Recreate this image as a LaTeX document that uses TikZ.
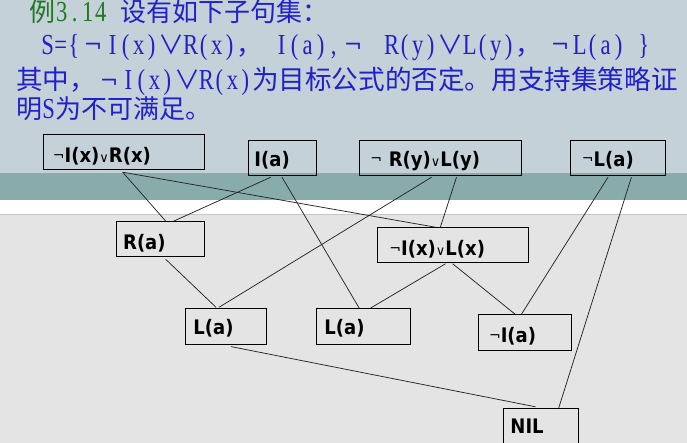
\documentclass[tikz,border=0pt]{standalone}
\usepackage{fontspec}
\newfontfamily\cjk{Noto Sans CJK SC}
\newfontfamily\lat{Liberation Serif}[FakeStretch=0.78]
\newfontfamily\hsym{DejaVu Serif}
\newfontfamily\bxf{DejaVu Sans}[FakeStretch=0.9]
\newfontfamily\bxs{DejaVu Sans}
\definecolor{topc}{HTML}{C5D1D9}
\definecolor{bandc}{HTML}{88ACAC}
\definecolor{lowc}{HTML}{E4E4E4}
\definecolor{hblue}{HTML}{2020CC}
\definecolor{hgreen}{HTML}{1E7A1E}
\newcommand\hh[1]{\makebox[13pt]{\lat\fontsize{29}{29}\selectfont #1}}
\newcommand\hneg{\makebox[26pt]{\raisebox{1.5pt}{\hsym\fontsize{22}{22}\selectfont ¬}}}
\newcommand\hor{\makebox[26pt]{\cjk\fontsize{26}{26}\selectfont ∨}}
\newcommand\hcomma{\makebox[26pt][l]{\cjk\fontsize{26}{26}\selectfont ，}}
\def\monoend{MONOEND}
\def\mono#1{\monoloop#1\monoend}
\def\monoloop#1{\ifx#1\monoend\else\hh{#1}\expandafter\monoloop\fi}
\newcommand\mynegsym{\raisebox{2.5pt}{\bxs\mdseries\fontsize{14}{14}\selectfont ¬}}
\newcommand\myorsym{{\bxs\mdseries\fontsize{13}{13}\selectfont ∨}}
\tikzset{
  hdr/.style={anchor=base west, inner sep=0pt, text=hblue, font=\cjk\fontsize{26}{26}\selectfont},
  bx/.style={draw=black, line width=0.9pt, inner sep=0pt, anchor=north west, align=left,
    font=\bxf\bfseries\fontsize{20}{24}\selectfont},
  edge/.style={draw=black!85, line width=0.75pt}
}
\begin{document}
\begin{tikzpicture}[x=1pt,y=-1pt]
\useasboundingbox (0,0) rectangle (687,443);
% background bands
\fill[topc] (0,0) rectangle (687,173.3);
\fill[bandc] (0,173.3) rectangle (687,200.3);
\fill[white] (0,200.3) rectangle (687,214);
\fill[lowc] (0,214) rectangle (687,443);
\draw[black!22, line width=0.6pt] (0,214) -- (687,214);
% header text
\node[hdr] (l1) at (29,21.5) {{\color{hgreen}例\mono{3.14}}\hh{}设有如下子句集：};
\node[hdr] (l2) at (41,54.5) {\mono{S=\{}\hneg\mono{I(x)}\hor\mono{R(x)}\hcomma\hh{}\mono{I(a),}\hneg\hspace{19pt}\mono{R(y)}\hor\mono{L(y)}\hcomma\hspace{6pt}\hneg\mono{L(a)}\hspace{12pt}\mono{\}}};
\node[hdr, font=\cjk\fontsize{26.6}{26.6}\selectfont] (l3) at (16,90) {其中，\hneg\mono{I(x)}\hor\mono{R(x)}为目标公式的否定。用支持集策略证};
\node[hdr] (l4) at (16,118.5) {明\mono{S}为不可满足。};
% boxes
\node[bx, text width=161pt, text height=28pt, text depth=7pt] (b1) at (42.5,134.3) {\hspace*{10pt}\mynegsym I(x)\myorsym R(x)};
\node[bx, text width=68pt, text height=25.7pt, text depth=9.3pt] (b2) at (247.5,140.3) {\hspace*{6.5pt}I(a)};
\node[bx, text width=162pt, text height=25.7pt, text depth=9.3pt] (b3) at (359,140.3) {\hspace*{11pt}\mynegsym\ R(y)\myorsym L(y)};
\node[bx, text width=94.6pt, text height=25.7pt, text depth=9.3pt] (b4) at (570,140.3) {\hspace*{11.5pt}\mynegsym L(a)};
\node[bx, text width=88pt, text height=28pt, text depth=7.3pt] (b5) at (116,221) {\hspace*{6.7pt}R(a)};
\node[bx, text width=150.5pt, text height=28pt, text depth=7pt] (b6) at (377,227.3) {\hspace*{12pt}\mynegsym I(x)\myorsym L(x)};
\node[bx, text width=81pt, text height=25.7pt, text depth=9.7pt] (b7) at (185,308.3) {\hspace*{8pt}L(a)};
\node[bx, text width=94.2pt, text height=25.7pt, text depth=9.7pt] (b8) at (315.5,308.3) {\hspace*{8.5pt}L(a)};
\node[bx, text width=93pt, text height=28pt, text depth=8pt] (b9) at (477.6,314.3) {\hspace*{11pt}\mynegsym I(a)};
\node[bx, text width=75pt, text height=24.4pt, text depth=15.6pt] (b10) at (502.5,408.3) {\hspace*{7.5pt}NIL};
% connectors
\draw[edge] ([xshift=80.2pt,yshift=-2pt]b1.south west) -- ([xshift=49.6pt]b5.north west);
\draw[edge] ([xshift=80.2pt,yshift=-2pt]b1.south west) -- ([xshift=59pt]b6.north west);
\draw[edge] ([xshift=23.3pt,yshift=-1pt]b2.south west) -- ([xshift=58pt]b5.north west);
\draw[edge] ([xshift=34.5pt,yshift=-1pt]b2.south west) -- ([xshift=43.8pt]b8.north west);
\draw[edge] ([xshift=72.6pt,yshift=-1pt]b3.south west) -- ([xshift=34pt,yshift=1pt]b7.north west);
\draw[edge] ([xshift=97.5pt,yshift=-1pt]b3.south west) -- ([xshift=63.3pt]b6.north west);
\draw[edge] ([xshift=38pt,yshift=-1pt]b4.south west) -- ([xshift=43.8pt]b9.north west);
\draw[edge] ([xshift=61.4pt,yshift=-1pt]b4.south west) -- ([xshift=56.1pt]b10.north west);
\draw[edge] ([xshift=49.6pt,yshift=-2pt]b5.south west) -- ([xshift=31pt,yshift=1pt]b7.north west);
\draw[edge] ([xshift=68.6pt,yshift=-0.5pt]b6.south west) -- ([xshift=54.7pt]b8.north west);
\draw[edge] ([xshift=75.6pt,yshift=-0.5pt]b6.south west) -- ([xshift=37.6pt]b9.north west);
\draw[edge] ([xshift=46pt,yshift=-2pt]b7.south west) -- ([xshift=33pt,yshift=1.5pt]b10.north west);
\end{tikzpicture}
\end{document}
